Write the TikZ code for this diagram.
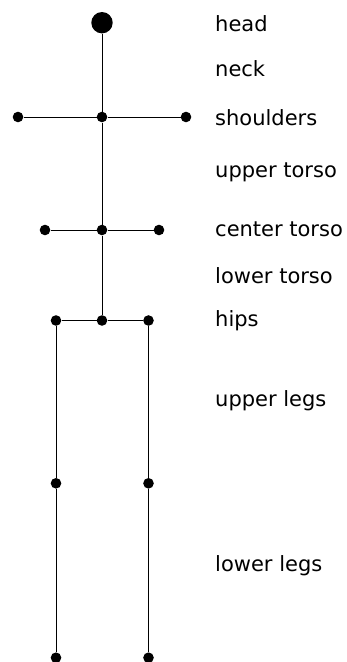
\documentclass[tikz,border=0pt]{standalone}
\usepackage{fontspec}
\setmainfont{DejaVu Sans}

\begin{document}
\begin{tikzpicture}[x=1pt,y=-1pt,
  joint/.style={circle,fill=black,inner sep=0pt,minimum size=10.6pt},
  bone/.style={line width=0.9pt},
  part/.style={anchor=base west,inner sep=0pt,font=\fontsize{21}{25}\selectfont}]
  \useasboundingbox (0,0) rectangle (347,662);

  % joints of the stick figure
  \node[joint,minimum size=21.4pt] (head) at (102,22.7) {};
  \node[joint] (ls) at (18,117) {};
  \node[joint] (sc) at (102,117) {};
  \node[joint] (rs) at (186,117) {};
  \node[joint] (lc) at (45,230) {};
  \node[joint] (cc) at (102,230) {};
  \node[joint] (rc) at (159,230) {};
  \node[joint] (lh) at (56,320.5) {};
  \node[joint] (hc) at (102,320.5) {};
  \node[joint] (rh) at (148.5,320.5) {};
  \node[joint] (lk) at (56,483.3) {};
  \node[joint] (rk) at (148.5,483.3) {};
  \node[joint] (lf) at (56,657.7) {};
  \node[joint] (rf) at (148.5,657.7) {};

  % bones
  \draw[bone] (head) -- (sc) -- (cc) -- (hc);
  \draw[bone] (ls) -- (sc) -- (rs);
  \draw[bone] (lc) -- (cc) -- (rc);
  \draw[bone] (lh) -- (hc) -- (rh);
  \draw[bone] (lh) -- (lk) -- (lf);
  \draw[bone] (rh) -- (rk) -- (rf);

  % body part names
  \node[part] (t1) at (215,31) {head};
  \node[part] (t2) at (215,76) {neck};
  \node[part] (t3) at (215,125) {shoulders};
  \node[part] (t4) at (215,177) {upper torso};
  \node[part] (t5) at (215,236) {center torso};
  \node[part] (t6) at (215,283) {lower torso};
  \node[part] (t7) at (215,326) {hips};
  \node[part] (t8) at (215,406) {upper legs};
  \node[part] (t9) at (215,571) {lower legs};
\end{tikzpicture}
\end{document}
